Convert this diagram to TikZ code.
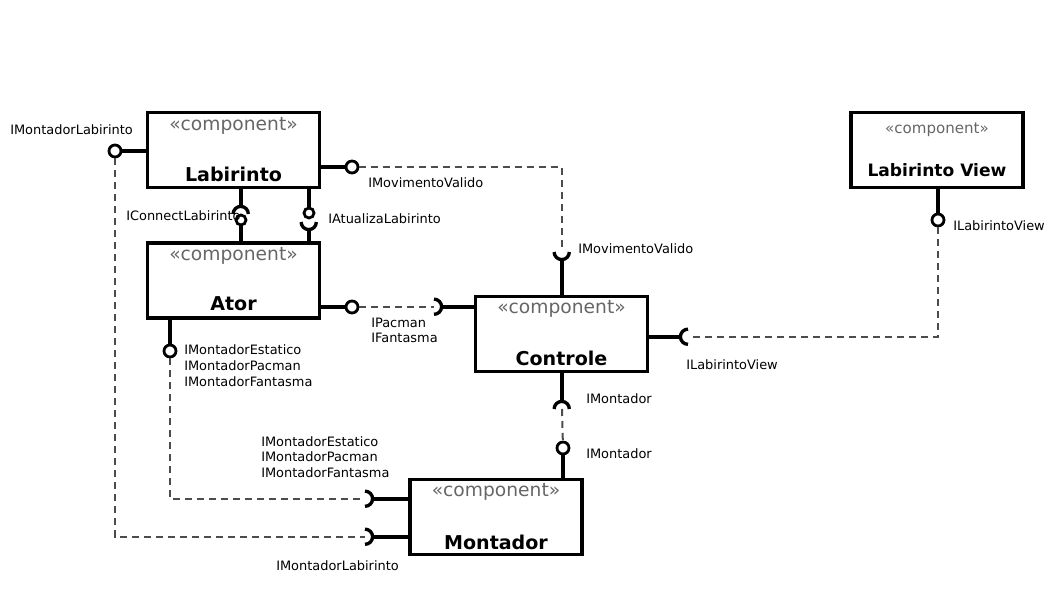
\documentclass[tikz,border=0pt]{standalone}
\usepackage{fontspec}
\setmainfont{DejaVu Sans}
\begin{document}
\begin{tikzpicture}[x=0.75pt,y=-0.75pt,
    comp/.style={draw,line width=2.6pt,minimum width=129pt,minimum height=56.25pt,inner sep=0pt},
    stereo/.style={text=black!60,font=\fontsize{14}{16}\selectfont},
    cname/.style={font=\bfseries\fontsize{14.3}{16}\selectfont},
    lbl/.style={anchor=west,inner sep=0pt,align=left,font=\fontsize{9.7}{11.8}\selectfont},
    ball/.style={circle,draw,line width=2.1pt,minimum size=9pt,inner sep=0pt},
    sock/.style={circle,minimum size=11.4pt,inner sep=0pt},
    conn/.style={line width=2.5pt},
    req/.style={line width=2.5pt},
    dep/.style={line width=1.5pt,black!70,dash pattern=on 5.25pt off 3.75pt}]
    \useasboundingbox (0,0) rectangle (1058,595);
    \def\r{5.7pt}

    \node[comp] (lab) at (233.5,150) {};
    \node[comp] (ator) at (233.5,280.5) {};
    \node[comp] (ctrl) at (561.5,334) {};
    \node[comp] (mont) at (496,517) {};
    \node[comp] (view) at (937,150) {};

    \node[stereo] at (233.5,126) {«component»};
    \node[cname] at (233.5,174) {Labirinto};
    \node[stereo] at (233.5,256) {«component»};
    \node[cname] at (233.5,304) {Ator};
    \node[stereo] at (561.5,309) {«component»};
    \node[cname] at (561.5,358) {Controle};
    \node[stereo] at (496,492) {«component»};
    \node[cname] at (496,542) {Montador};
    \node[stereo,font=\fontsize{11.3}{13}\selectfont] at (937,130) {«component»};
    \node[cname,font=\bfseries\fontsize{12.8}{15}\selectfont] at (937,170) {Labirinto View};

    % provided interfaces
    \node[ball] (bml) at (115,151) {};
    \node[ball] (bmv) at (352,167) {};
    \node[ball,minimum size=7.5pt] (bcl) at (241,220) {};
    \node[ball,minimum size=7.5pt] (bal) at (309,213) {};
    \node[ball] (bpf) at (352,307) {};
    \node[ball] (bme) at (170,351) {};
    \node[ball] (blv) at (938,220) {};
    \node[ball] (bmo) at (563,448) {};

    % required interfaces
    \node[sock] (scl) at (241,214) {};
    \node[sock] (sal) at (309,222) {};
    \node[sock] (smv) at (562,252) {};
    \node[sock] (spf) at (434,307) {};
    \node[sock] (slv) at (688,337) {};
    \node[sock] (smo) at (562,409) {};
    \node[sock] (sme) at (365,499) {};
    \node[sock] (sml) at (365,537) {};

    \draw[req] (scl.west) arc[start angle=180,end angle=0,radius=\r];
    \draw[req] (sal.west) arc[start angle=180,end angle=360,radius=\r];
    \draw[req] (smv.west) arc[start angle=180,end angle=360,radius=\r];
    \draw[req] (spf.north) arc[start angle=90,end angle=-90,radius=\r];
    \draw[req] (slv.north) arc[start angle=90,end angle=270,radius=\r];
    \draw[req] (smo.west) arc[start angle=180,end angle=0,radius=\r];
    \draw[req] (sme.north) arc[start angle=90,end angle=-90,radius=\r];
    \draw[req] (sml.north) arc[start angle=90,end angle=-90,radius=\r];

    \draw[conn] (lab.west |- bml) -- (bml);
    \draw[conn] (lab.east |- bmv) -- (bmv);
    \draw[conn] (lab.south -| scl) -- (scl.north);
    \draw[conn] (bcl) -- (ator.north -| bcl);
    \draw[conn] (lab.south -| bal) -- (bal);
    \draw[conn] (sal.south) -- (ator.north -| sal);
    \draw[conn] (ator.east |- bpf) -- (bpf);
    \draw[conn] (spf.east) -- (ctrl.west |- spf);
    \draw[conn] (ator.south -| bme) -- (bme);
    \draw[conn] (smv.south) -- (ctrl.north -| smv);
    \draw[conn] (ctrl.east |- slv) -- (slv.west);
    \draw[conn] (view.south -| blv) -- (blv);
    \draw[conn] (ctrl.south -| smo) -- (smo.north);
    \draw[conn] (bmo) -- (mont.north -| bmo);
    \draw[conn] (sme.east) -- (mont.west |- sme);
    \draw[conn] (sml.east) -- (mont.west |- sml);

    \draw[dep] (bmv) -| (smv.center);
    \draw[dep] (bpf) -- (spf.center);
    \draw[dep] (blv) |- (slv.center);
    \draw[dep] (smo.center) -- (bmo);
    \draw[dep] (bme) |- (sme.center);
    \draw[dep] (bml) |- (sml.center);

    \node[lbl] at (10,130) {IMontadorLabirinto};
    \node[lbl] at (368,183) {IMovimentoValido};
    \node[lbl] at (126,216) {IConnectLabirinto};
    \node[lbl] at (328,219) {IAtualizaLabirinto};
    \node[lbl] at (578,249) {IMovimentoValido};
    \node[lbl] at (371,330.5) {IPacman\\IFantasma};
    \node[lbl] at (184,365.5) {IMontadorEstatico\\IMontadorPacman\\IMontadorFantasma};
    \node[lbl] at (953,226) {ILabirintoView};
    \node[lbl] at (686,365) {ILabirintoView};
    \node[lbl] at (586,399) {IMontador};
    \node[lbl] at (586,454) {IMontador};
    \node[lbl] at (261,457) {IMontadorEstatico\\IMontadorPacman\\IMontadorFantasma};
    \node[lbl] at (276,566) {IMontadorLabirinto};
\end{tikzpicture}
\end{document}
